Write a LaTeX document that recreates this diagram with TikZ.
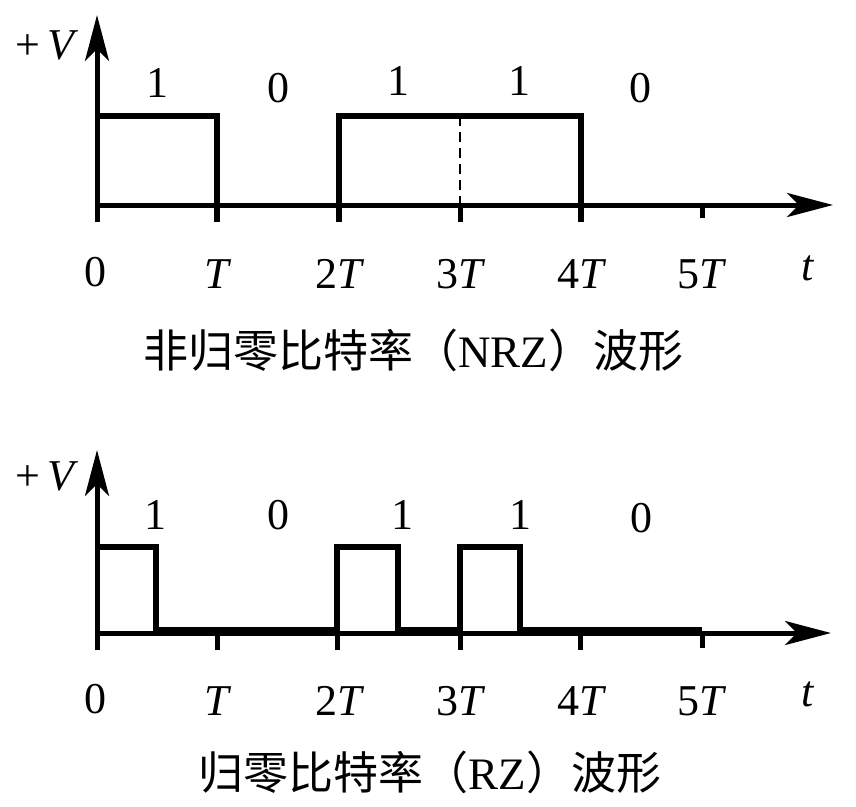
\documentclass[tikz,border=0pt]{standalone}
\usepackage{fontspec}
\setmainfont{Liberation Serif}
\newfontfamily\cjk{Noto Sans CJK SC}
\usetikzlibrary{arrows.meta}
\begin{document}
\begin{tikzpicture}[x=1pt,y=-1pt,
  axis/.style={line width=5pt,-{Stealth[length=46pt,width=24pt,inset=12pt]}},
  wave/.style={line width=5.5pt,line join=miter},
  tickmark/.style={line width=5pt},
  guide/.style={line width=2.4pt,dash pattern=on 10pt off 6pt},
  lbl/.style={font=\fontsize{44}{48}\selectfont,inner sep=0pt},
  captext/.style={font=\fontsize{45}{48}\selectfont,inner sep=0pt}]
\useasboundingbox (0,0) rectangle (856,806);
\fill[white] (0,0) rectangle (856,806);
% ---------- NRZ ----------
\coordinate (ya0) at (97,222);
\coordinate (yatop) at (97,15);
\coordinate (xa0) at (97,205);
\coordinate (xaend) at (833,205);
\draw[axis] (ya0) -- (yatop);
\draw[axis] (xa0) -- (xaend);
\coordinate (a1) at (97,116);
\coordinate (a2) at (217,116);
\coordinate (a3) at (217,222);
\draw[wave] (a1) -- (a2) -- (a3);
\coordinate (b1) at (339,222);
\coordinate (b2) at (339,116);
\coordinate (b3) at (581,116);
\coordinate (b4) at (581,222);
\draw[wave] (b1) -- (b2) -- (b3) -- (b4);
\coordinate (c1) at (460,116);
\coordinate (c2) at (460,205);
\coordinate (c3) at (460,222);
\draw[guide] (c1) -- (c2);
\draw[tickmark] (c2) -- (c3);
\coordinate (d1) at (702,205);
\coordinate (d2) at (702,218);
\draw[tickmark] (d1) -- (d2);
\node[lbl] (vtop) at (47,45) {+\,\textit{V}};
\node[lbl] (n1) at (157,83) {1};
\node[lbl] (n2) at (278,88) {0};
\node[lbl] (n3) at (398,81) {1};
\node[lbl] (n4) at (519,81) {1};
\node[lbl] (n5) at (640,88) {0};
\node[lbl] (t0) at (95,272) {0};
\node[lbl] (t1) at (218,274) {\textit{T}};
\node[lbl] (t2) at (340,274) {2\textit{T}};
\node[lbl] (t3) at (461,274) {3\textit{T}};
\node[lbl] (t4) at (582,274) {4\textit{T}};
\node[lbl] (t5) at (702,274) {5\textit{T}};
\node[lbl] (tt) at (808,268) {\textit{t}};
\node[captext] (captop) at (413,350) {{\cjk 非归零比特率（}NRZ{\cjk ）波形}};
% ---------- RZ ----------
\coordinate (yb0) at (97,650);
\coordinate (ybtop) at (97,450);
\coordinate (xb0) at (97,633);
\coordinate (xbend) at (831,633);
\draw[axis] (yb0) -- (ybtop);
\draw[axis] (xb0) -- (xbend);
\coordinate (p1) at (97,547);
\coordinate (p2) at (156,547);
\coordinate (p3) at (156,630);
\coordinate (p4) at (337,630);
\coordinate (p5) at (337,547);
\coordinate (p6) at (398,547);
\coordinate (p7) at (398,630);
\coordinate (p8) at (460,630);
\coordinate (p9) at (460,547);
\coordinate (p10) at (520,547);
\coordinate (p11) at (520,630);
\coordinate (p12) at (702,630);
\draw[wave] (p1) -- (p2) -- (p3) -- (p4) -- (p5) -- (p6) -- (p7) -- (p8) -- (p9) -- (p10) -- (p11) -- (p12);
\foreach \x/\n in {217/k1,337/k2,460/k3,580/k4}{
  \coordinate (\n a) at (\x,633);
  \coordinate (\n b) at (\x,650);
  \draw[tickmark] (\n a) -- (\n b);
}
\coordinate (k5a) at (702,633);
\coordinate (k5b) at (702,648);
\draw[tickmark] (k5a) -- (k5b);
\node[lbl] (vbot) at (47,476) {+\,\textit{V}};
\node[lbl] (m1) at (155,515) {1};
\node[lbl] (m2) at (278,515) {0};
\node[lbl] (m3) at (402,515) {1};
\node[lbl] (m4) at (520,515) {1};
\node[lbl] (m5) at (641,518) {0};
\node[lbl] (s0) at (95,699) {0};
\node[lbl] (s1) at (218,701) {\textit{T}};
\node[lbl] (s2) at (340,701) {2\textit{T}};
\node[lbl] (s3) at (461,701) {3\textit{T}};
\node[lbl] (s4) at (582,701) {4\textit{T}};
\node[lbl] (s5) at (702,701) {5\textit{T}};
\node[lbl] (st) at (808,694) {\textit{t}};
\node[captext] (capbot) at (430,772) {{\cjk 归零比特率（}RZ{\cjk ）波形}};
\end{tikzpicture}
\end{document}
